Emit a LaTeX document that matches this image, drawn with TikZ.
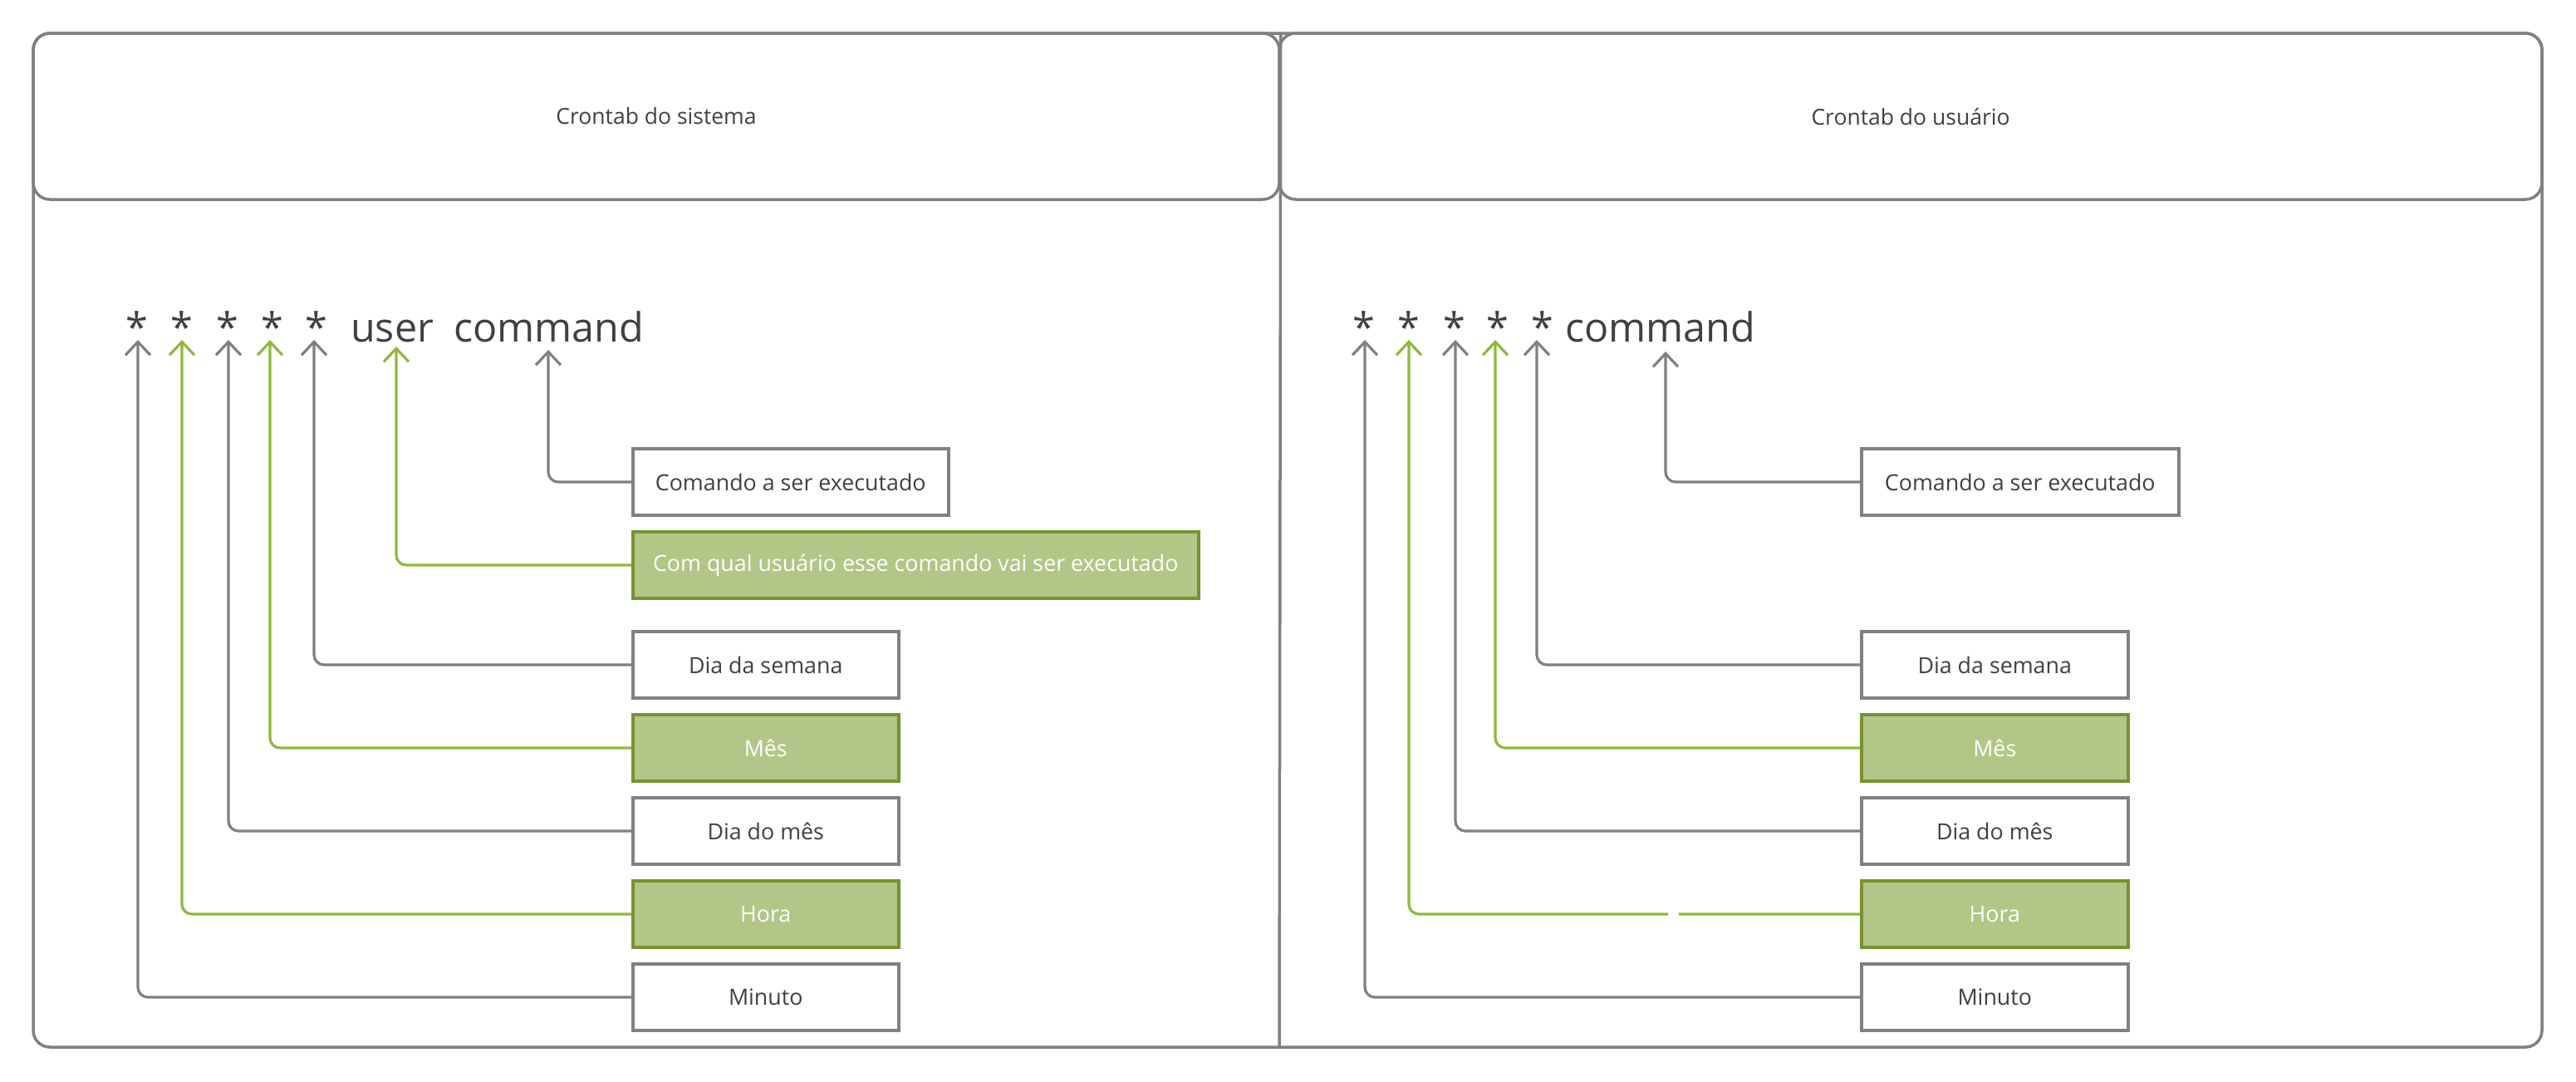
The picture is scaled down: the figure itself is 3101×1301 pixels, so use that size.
\documentclass[tikz,border=0pt]{standalone}
\usepackage{fontspec}
\setmainfont{Open Sans}
\usetikzlibrary{arrows.meta}
\definecolor{lgray}{HTML}{808080}
\definecolor{dtext}{HTML}{404040}
\definecolor{gline}{HTML}{8DB93C}
\definecolor{gfill}{HTML}{B2C688}
\definecolor{gborder}{HTML}{779230}
\begin{document}
\begin{tikzpicture}[x=1pt,y=-1pt,
  lane/.style={draw=lgray, line width=3.5pt},
  hdr/.style={lane, rounded corners=20pt, minimum height=200pt, inner sep=0pt, font=\fontsize{26.5}{30}\selectfont, text=dtext},
  box/.style={draw=lgray, line width=3.5pt, fill=white, minimum height=80pt, inner sep=0pt, anchor=west, font=\fontsize{26.8}{30}\selectfont, text=dtext},
  gbox/.style={box, draw=gborder, fill=gfill, text=white},
  big/.style={font=\fontsize{48.5}{56}\selectfont, text=dtext, inner sep=0pt, anchor=base},
  conn/.style={draw=lgray, line width=3.2pt, rounded corners=12pt, -{Straight Barb[length=16pt,width=30pt]}},
  gconn/.style={conn, draw=gline}
]
\useasboundingbox (0,0) rectangle (3101,1301);

% pool
\draw[lane, rounded corners=20pt] (40,40) rectangle (3060,1260);
\node[hdr, minimum width=1500pt] (hL) at (790,140) {Crontab do sistema};
\node[hdr, minimum width=1520pt] (hR) at (2300,140) {Crontab do usuário};
\draw[lane] (hL.north east) -- (1540,1260);

% left cron line
\node[big] (l1) at (165,411) {*};
\node[big] (l2) at (219,411) {*};
\node[big] (l3) at (274,411) {*};
\node[big] (l4) at (328,411) {*};
\node[big] (l5) at (381,411) {*};
\node[big, anchor=base west] (luser) at (422,411) {user};
\node[big, anchor=base west] (lcmd) at (546,411) {command};

\coordinate (a1) at (166,409);
\coordinate (a2) at (219,409);
\coordinate (a3) at (275,409);
\coordinate (a4) at (325,409);
\coordinate (a5) at (378,409);
\coordinate (au) at (477,417);
\coordinate (ac) at (660,421);

\node[box, minimum width=380pt] (cmdL) at (760,580) {Comando a ser executado};
\node[gbox, minimum width=681pt] (usrL) at (760,680) {Com qual usuário esse comando vai ser executado};
\node[box, minimum width=320pt] (semL) at (760,800) {Dia da semana};
\node[gbox, minimum width=320pt] (mesL) at (760,900) {Mês};
\node[box, minimum width=320pt] (diaL) at (760,1000) {Dia do mês};
\node[gbox, minimum width=320pt] (horL) at (760,1100) {Hora};
\node[box, minimum width=320pt] (minL) at (760,1200) {Minuto};

\draw[conn] (cmdL.west) -| (ac);
\draw[gconn] (usrL.west) -| (au);
\draw[conn] (semL.west) -| (a5);
\draw[gconn] (mesL.west) -| (a4);
\draw[conn] (diaL.west) -| (a3);
\draw[gconn] (horL.west) -| (a2);
\draw[conn] (minL.west) -| (a1);

% right cron line
\node[big] (r1) at (1642,411) {*};
\node[big] (r2) at (1696,411) {*};
\node[big] (r3) at (1751,411) {*};
\node[big] (r4) at (1803,411) {*};
\node[big] (r5) at (1857,411) {*};
\node[big, anchor=base west] (rcmd) at (1884,411) {command};

\coordinate (b1) at (1643,409);
\coordinate (b2) at (1696,409);
\coordinate (b3) at (1752,409);
\coordinate (b4) at (1800,409);
\coordinate (b5) at (1850,409);
\coordinate (bc) at (2005,423);

\node[box, minimum width=382pt] (cmdR) at (2239,580) {Comando a ser executado};
\node[box, minimum width=321pt] (semR) at (2239,800) {Dia da semana};
\node[gbox, minimum width=321pt] (mesR) at (2239,900) {Mês};
\node[box, minimum width=321pt] (diaR) at (2239,1000) {Dia do mês};
\node[gbox, minimum width=321pt] (horR) at (2239,1100) {Hora};
\node[box, minimum width=321pt] (minR) at (2239,1200) {Minuto};

\draw[conn] (cmdR.west) -| (bc);
\draw[conn] (semR.west) -| (b5);
\draw[gconn] (mesR.west) -| (b4);
\draw[conn] (diaR.west) -| (b3);
\draw[gconn, dash pattern=on 218pt off 13pt on 2000pt off 1pt] (horR.west) -| (b2);
\draw[conn] (minR.west) -| (b1);
\end{tikzpicture}
\end{document}
